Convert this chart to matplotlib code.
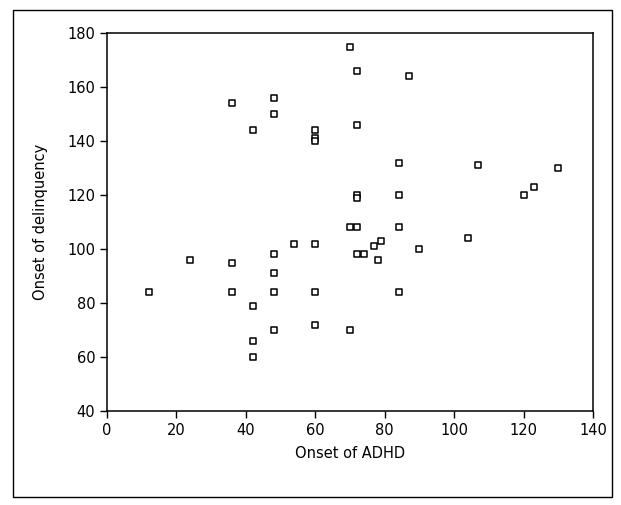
import matplotlib
matplotlib.use("Agg")
import matplotlib.pyplot as plt
from matplotlib.patches import Rectangle

adhd_onset = [12, 24, 36, 36, 36, 42, 42, 42, 42, 48, 48, 48, 48, 48, 48, 54,
              60, 60, 60, 60, 60, 60, 70, 70, 70, 72, 72, 72, 72, 72, 72, 74,
              77, 79, 78, 84, 84, 84, 84, 87, 90, 104, 107, 120, 123, 130]
delinq_onset = [84, 96, 95, 84, 154, 79, 66, 60, 144, 98, 91, 84, 70, 150, 156, 102,
                102, 84, 72, 144, 141, 140, 175, 108, 70, 166, 146, 120, 119, 108, 98, 98,
                101, 103, 96, 132, 120, 108, 84, 164, 100, 104, 131, 120, 123, 130]

x_ticks = [0, 20, 40, 60, 80, 100, 120, 140]
y_ticks = [40, 60, 80, 100, 120, 140, 160, 180]

fig = plt.figure(figsize=(6.21, 5.05), dpi=100)
ax = fig.add_axes([107/621, 1 - 411/505, (593 - 107)/621, (411 - 33)/505])

ax.scatter(adhd_onset, delinq_onset, marker='s', s=22, facecolors='white',
           edgecolors='black', linewidths=1.1, zorder=3)

ax.set_xlim(0, 140)
ax.set_ylim(40, 180)
ax.set_xticks(x_ticks)
ax.set_yticks(y_ticks)
ax.tick_params(axis='both', direction='out', length=5, width=1, labelsize=10.5,
               top=False, right=False)
for s in ax.spines.values():
    s.set_linewidth(1.1)

ax.set_xlabel("Onset of ADHD", fontsize=10.5, labelpad=6)
ax.set_ylabel("Onset of delinquency", fontsize=10.5, labelpad=14)

fig.patches.append(Rectangle((13/621, 1 - 497/505), (612 - 13)/621, (497 - 10)/505,
                             transform=fig.transFigure, fill=False,
                             edgecolor='black', linewidth=1.0))

fig.savefig("out.png", dpi=100)
